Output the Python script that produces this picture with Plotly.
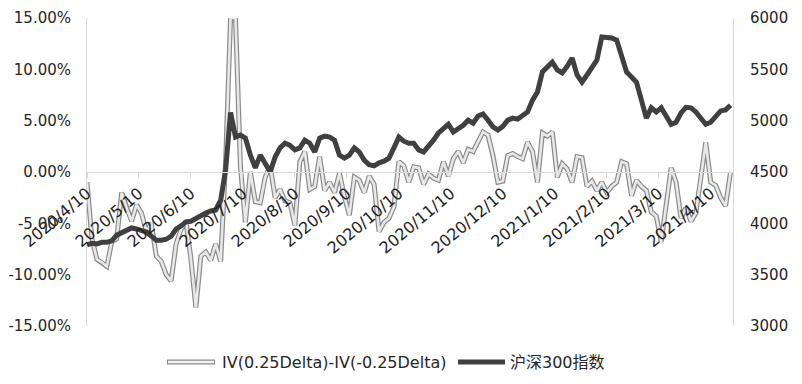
import plotly.graph_objects as go

# ---- data ----
# x positions: trading-day index, one sample every 2 trading days
days = list(range(0, 261, 2))

iv_skew = [  # IV(0.25Delta)-IV(-0.25Delta), in %
    -1.0, -6.5, -8.5, -8.8, -9.2, -6.8, -6.5, -2.0, -3.5, -4.8,
    -3.2, -4.0, -5.8, -5.0, -8.2, -8.7, -10.0, -10.6, -7.0, -5.6,
    -4.8, -8.5, -13.2, -8.2, -7.8, -8.6, -7.0, -8.7, 1.0, 15.0,
    15.0, 0.5, -4.9, 0.0, -2.9, -3.0, -0.5, 0.6, -2.5, -1.7,
    -2.8, -3.0, -5.2, 1.0, 2.0, -1.7, -1.4, 1.5, -1.8, -1.0,
    -2.0, -0.1, -2.4, -4.2, -0.5, -0.8, -2.0, -0.4, -1.2, -5.8,
    -4.9, -4.5, -3.4, 1.0, 0.6, -1.0, 0.5, 0.4, -1.2, -0.2,
    -0.6, -0.8, 1.0, -0.4, 1.3, 2.0, 0.9, 2.2, 2.0, 2.9,
    3.9, 3.6, 1.6, -1.0, -0.9, 1.6, 1.8, 1.5, 1.3, 2.9,
    2.0, -1.0, 3.8, 3.5, 3.9, -0.5, 0.8, 0.3, -1.0, 1.5,
    1.4, -1.4, -0.9, -1.8, -1.0, -2.0, -1.4, -1.0, 1.0, 0.8,
    -2.3, -0.8, -1.4, -1.8, -3.9, -4.3, -6.8, -3.2, 0.4, -1.0,
    -4.5, -3.5, -4.8, -4.0, -0.5, 2.9, -1.0, -1.3, -2.5, -3.3,
    0.0,
]

csi300 = [  # 沪深300指数
    3790, 3805, 3800, 3815, 3815, 3830, 3885, 3905, 3935, 3955,
    3945, 3935, 3915, 3875, 3835, 3835, 3845, 3875, 3945, 3975,
    4015, 4020, 4050, 4070, 4100, 4120, 4130, 4225, 4520, 5080,
    4840, 4860, 4830, 4665, 4540, 4665, 4570, 4500, 4645, 4735,
    4780, 4760, 4715, 4735, 4810, 4780, 4695, 4830, 4850, 4840,
    4810, 4665, 4635, 4665, 4735, 4695, 4615, 4570, 4560, 4590,
    4605, 4635, 4735, 4840, 4800, 4780, 4780, 4715, 4695, 4745,
    4810, 4880, 4925, 4965, 4890, 4925, 4955, 5005, 4975, 5045,
    5065, 5005, 4940, 4910, 4945, 5005, 5025, 5015, 5045, 5085,
    5200, 5280, 5475, 5520, 5570, 5495, 5465, 5530, 5610, 5445,
    5375, 5445, 5510, 5590, 5815, 5815, 5805, 5785, 5610, 5475,
    5425, 5375, 5200, 5025, 5125, 5085, 5125, 5035, 4965, 4985,
    5075, 5130, 5125, 5085, 5025, 4965, 4985, 5035, 5095, 5105,
    5150,
]

tick_days = [0, 21, 42, 63, 84, 105, 126, 147, 168, 189, 210, 231, 252]
tick_labels = ["2020/4/10", "2020/5/10", "2020/6/10", "2020/7/10", "2020/8/10",
               "2020/9/10", "2020/10/10", "2020/11/10", "2020/12/10", "2021/1/10",
               "2021/2/10", "2021/3/10", "2021/4/10"]

left_vals = [-15, -10, -5, 0, 5, 10, 15]
left_labels = ["-15.00%", "-10.00%", "-5.00%", "0.00%", "5.00%", "10.00%", "15.00%"]
right_vals = [3000, 3500, 4000, 4500, 5000, 5500, 6000]
right_labels = ["3000", "3500", "4000", "4500", "5000", "5500", "6000"]

series_names = ["IV(0.25Delta)-IV(-0.25Delta)", "沪深300指数"]

# ---- figure ----
FONT = "DejaVu Sans, Noto Sans CJK SC, sans-serif"
TXT = "#262626"
AX = "#d9d9d9"

fig = go.Figure()
fig.add_trace(go.Scatter(x=days, y=iv_skew, mode="lines", name=series_names[0],
                         line=dict(color="#8a8a8a", width=5), showlegend=False))
fig.add_trace(go.Scatter(x=days, y=iv_skew, mode="lines", name=series_names[0],
                         line=dict(color="#e8e8e8", width=2.6), showlegend=False))
fig.add_trace(go.Scatter(x=days, y=csi300, mode="lines", name=series_names[1], yaxis="y2",
                         line=dict(color="#404040", width=5), showlegend=False))

# page body has an 8px margin: figure occupies window x 8..794, y 8..376
OFF = 8
W, H = 786, 368
L, T = 87 - OFF, 18 - OFF
R = W - (733 - OFF)
B = H - (326 - OFF)
pw, ph = W - L - R, H - T - B


def px_x(p):  # window pixel -> paper
    return (p - OFF - L) / pw


def px_y(p):
    return (H - B - (p - OFF)) / ph


# custom legend (double line symbol for the IV series)
ly = px_y(362)
shapes = [
    dict(type="line", xref="paper", yref="paper", x0=px_x(167), x1=px_x(215), y0=ly, y1=ly,
         line=dict(color="#8a8a8a", width=5)),
    dict(type="line", xref="paper", yref="paper", x0=px_x(168), x1=px_x(214), y0=ly, y1=ly,
         line=dict(color="#f4f4f4", width=2.6)),
    dict(type="line", xref="paper", yref="paper", x0=px_x(458), x1=px_x(505), y0=ly, y1=ly,
         line=dict(color="#404040", width=5)),
]
annotations = [
    dict(xref="paper", yref="paper", x=px_x(220), y=ly, text=series_names[0], showarrow=False,
         xanchor="left", yanchor="middle", font=dict(family=FONT, size=16, color=TXT)),
    dict(xref="paper", yref="paper", x=px_x(508), y=ly, text=series_names[1], showarrow=False,
         xanchor="left", yanchor="middle", font=dict(family=FONT, size=16, color=TXT)),
]

fig.update_layout(
    width=W, height=H,
    margin=dict(l=L, r=R, t=T, b=B, pad=0, autoexpand=False),
    paper_bgcolor="white", plot_bgcolor="white",
    font=dict(family=FONT, size=15, color=TXT),
    xaxis=dict(range=[0, 261], tickmode="array", tickvals=tick_days, ticktext=tick_labels,
               tickangle=-40, anchor="free", position=0.5, showline=True, linecolor=AX,
               linewidth=1, ticks="outside", ticklen=5, tickcolor=AX, showgrid=False,
               zeroline=False, automargin=False,
               tickfont=dict(family=FONT, size=16, color="#1e1e1e")),
    yaxis=dict(range=[-15, 15], tickmode="array", tickvals=left_vals, ticktext=left_labels,
               showline=True, linecolor=AX, linewidth=1, showgrid=False, zeroline=False,
               ticks="", ticklabelstandoff=12, automargin=False,
               tickfont=dict(family=FONT, size=15, color=TXT)),
    yaxis2=dict(range=[3000, 6000], overlaying="y", side="right", tickmode="array",
                tickvals=right_vals, ticktext=right_labels, showline=True, linecolor=AX,
                linewidth=1, showgrid=False, zeroline=False, ticks="", ticklabelstandoff=13,
                automargin=False, tickfont=dict(family=FONT, size=15, color=TXT)),
    shapes=shapes, annotations=annotations,
    showlegend=False,
)

fig.write_html("out.html")
